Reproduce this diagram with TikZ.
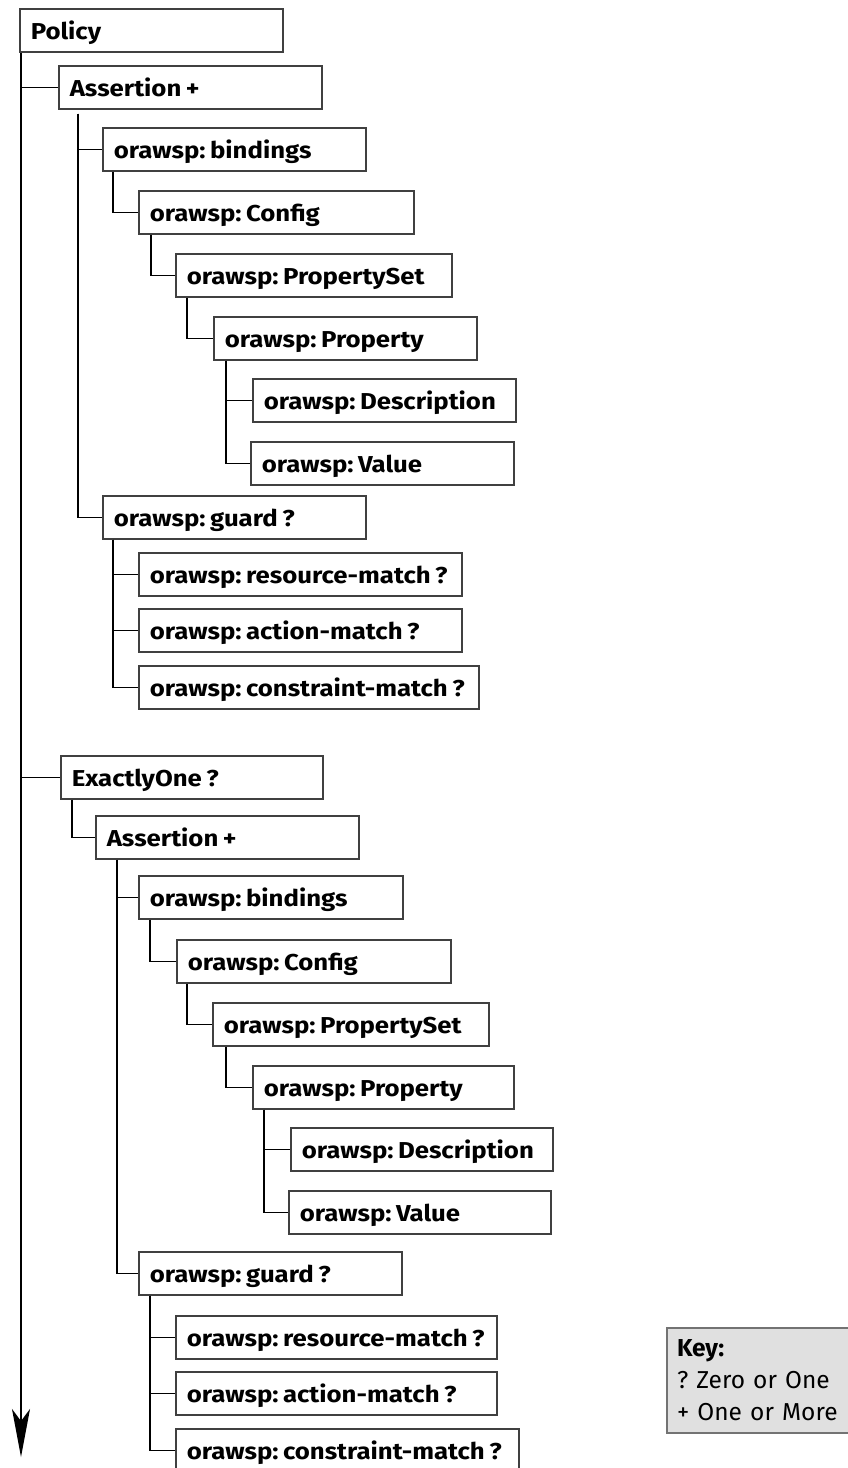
\documentclass[tikz,border=0pt]{standalone}
\usepackage{fontspec}
\setmainfont{Fira Sans}
\newfontfamily\boxfont[FakeStretch=1.12]{Fira Sans}
\frenchspacing
\newcommand{\tightspace}{\spaceskip=4.5pt plus 1pt minus 1pt\relax}
\usetikzlibrary{arrows.meta,calc}
\tikzset{
  bx/.style={draw=black!75, line width=1.6pt, fill=white, anchor=north west,
    minimum height=43pt, inner xsep=11pt, inner ysep=0pt, text height=20pt, text depth=2pt,
    font=\boxfont\fontsize{23}{24}\selectfont\bfseries\tightspace},
  ln/.style={line width=1.5pt, black},
  keybox/.style={draw=black!55, line width=2pt, fill=black!12, anchor=north west,
    minimum width=200pt, minimum height=105pt, inner xsep=10pt, text width=180pt, align=left,
    font=\fontsize{24.5}{32}\selectfont}
}
\newlength{\bxw}
\newcommand{\bxn}[5]{\setlength{\bxw}{#4pt}\addtolength{\bxw}{-22pt}%
  \node[bx, minimum width=#4pt] (#1) at (#2,#3) {\makebox[\bxw][l]{#5}};}
\begin{document}
\begin{tikzpicture}[x=1pt,y=-1pt]
\useasboundingbox (0,0) rectangle (848,1468);
% first block
\bxn{policy}{19}{8}{263}{Policy}
\bxn{a1}{58}{65}{263}{Assertion +}
\bxn{b1}{102}{127}{263}{orawsp: bindings}
\bxn{c1}{138}{190}{275}{orawsp: Config}
\bxn{ps1}{175}{253}{276}{orawsp: PropertySet}
\bxn{p1}{213}{316}{263}{orawsp: Property}
\bxn{d1}{252}{378}{263}{orawsp: Description}
\bxn{v1}{250}{441}{263}{orawsp: Value}
\bxn{g1}{102}{495}{263}{orawsp: guard ?}
\bxn{rm1}{138}{552}{323}{orawsp: resource-match ?}
\bxn{am1}{138}{608}{323}{orawsp: action-match ?}
\bxn{cm1}{138}{665}{340}{orawsp: constraint-match ?}
% second block
\bxn{eo}{60}{755}{262}{ExactlyOne ?}
\bxn{a2}{95}{815}{263}{Assertion +}
\bxn{b2}{138}{875}{264}{orawsp: bindings}
\bxn{c2}{176}{939}{274}{orawsp: Config}
\bxn{ps2}{212}{1002}{276}{orawsp: PropertySet}
\bxn{p2}{252}{1065}{261}{orawsp: Property}
\bxn{d2}{290}{1127}{262}{orawsp: Description}
\bxn{v2}{288}{1190}{262}{orawsp: Value}
\bxn{g2}{138}{1251}{263}{orawsp: guard ?}
\bxn{rm2}{175}{1315}{321}{orawsp: resource-match ?}
\bxn{am2}{175}{1371}{321}{orawsp: action-match ?}
\bxn{cm2}{175}{1428}{343}{orawsp: constraint-match ?}
% key
\node[keybox] (key) at (666,1327) {\textbf{Key:}\\? Zero or One\\+ One or More};
% main line
\coordinate (tip) at (21,1457);
\draw[ln, -{Stealth[length=48pt, width=18pt, inset=12pt]}] (tip |- policy.south) -- (tip);
\draw[ln] (tip |- a1.west) -- (a1.west);
\draw[ln] (tip |- eo.west) -- (eo.west);
% first block connectors
\draw[ln] ($(a1.south west)+(20,4)$) |- (b1.west);
\draw[ln] ($(a1.south west)+(20,4)$) |- (g1.west);
\draw[ln] ($(b1.south west)+(11,0)$) |- (c1.west);
\draw[ln] ($(c1.south west)+(13,0)$) |- (ps1.west);
\draw[ln] ($(ps1.south west)+(12,0)$) |- (p1.west);
\draw[ln] ($(p1.south west)+(13,0)$) |- (d1.west);
\draw[ln] ($(p1.south west)+(13,0)$) |- (v1.west);
\draw[ln] ($(g1.south west)+(11,0)$) |- (rm1.west);
\draw[ln] ($(g1.south west)+(11,0)$) |- (am1.west);
\draw[ln] ($(g1.south west)+(11,0)$) |- (cm1.west);
% second block connectors
\draw[ln] ($(eo.south west)+(12,0)$) |- (a2.west);
\draw[ln] ($(a2.south west)+(22,0)$) |- (b2.west);
\draw[ln] ($(a2.south west)+(22,0)$) |- (g2.west);
\draw[ln] ($(b2.south west)+(12,0)$) |- (c2.west);
\draw[ln] ($(c2.south west)+(11,0)$) |- (ps2.west);
\draw[ln] ($(ps2.south west)+(14,0)$) |- (p2.west);
\draw[ln] ($(p2.south west)+(12,0)$) |- (d2.west);
\draw[ln] ($(p2.south west)+(12,0)$) |- (v2.west);
\draw[ln] ($(g2.south west)+(12,0)$) |- (rm2.west);
\draw[ln] ($(g2.south west)+(12,0)$) |- (am2.west);
\draw[ln] ($(g2.south west)+(12,0)$) |- (cm2.west);
\end{tikzpicture}
\end{document}
